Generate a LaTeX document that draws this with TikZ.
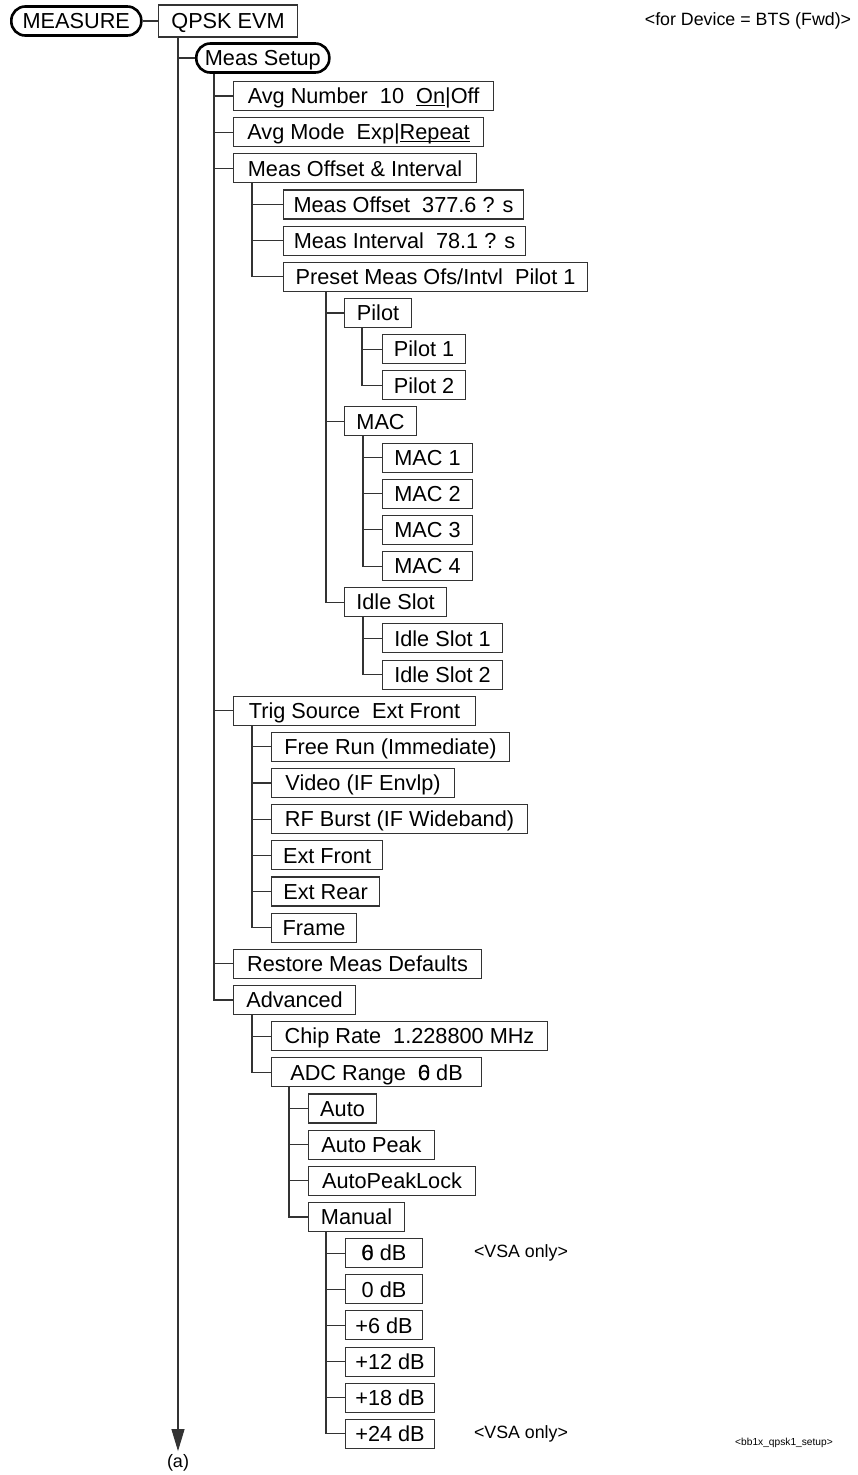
\documentclass[tikz,border=0pt]{standalone}
\usepackage{fontspec}
\setmainfont{Liberation Sans}
\usepackage{tikz}
\usetikzlibrary{arrows.meta}

% overprinted zero used in the ADC range labels
\newcommand{\zsix}{\makebox[0pt][l]{0}6}
% underline kept close to the baseline
\newcommand{\ul}[1]{\underline{\smash{#1}}}

\begin{document}
\begin{tikzpicture}[
    x=1pt, y=-1pt,
    font=\fontsize{21.7}{26}\selectfont,
    box/.style={rectangle, draw=black!80, line width=1.1pt, minimum height=29pt, inner xsep=3pt, inner ysep=0pt, text height=15.5pt, text depth=0pt, anchor=west},
    menu/.style={rectangle, draw, line width=2.6pt, rounded corners=14pt, minimum height=29pt, inner xsep=3pt, inner ysep=0pt, text height=15.5pt, text depth=0pt, anchor=west},
    note/.style={font=\fontsize{17.8}{21}\selectfont},
    link/.style={draw=black!80, line width=1.1pt},
    arrow/.style={link, -{Triangle[length=22pt, width=13pt]}}
]
    \useasboundingbox (0,0) rectangle (858,1475);

    % top level
    \node[menu, minimum width=130pt] (measure) at (10,21) {MEASURE};
    \node[box, minimum width=139pt, minimum height=32pt] (qpsk) at (158,21) {QPSK EVM};
    \node[menu, minimum width=133pt] (setup) at (195,58) {Meas Setup};
    \node[note] (device) at (748,21) {<for Device = BTS (Fwd)>};

    % Meas Setup
    \node[box, minimum width=260pt] (avgnum) at (233,96.0) {Avg Number\ \ 10\ \ \ul{On}|Off};
    \node[box, minimum width=250pt] (avgmode) at (233,132.2) {Avg Mode\ \ Exp|\ul{Repeat}};
    \node[box, minimum width=243pt] (ofsint) at (233,168.3) {Meas Offset \& Interval};
    \node[box, minimum width=240pt] (measofs) at (283,204.5) {Meas Offset\ \ 377.6 ? s};
    \node[box, minimum width=242pt] (measint) at (283,240.6) {Meas Interval\ \ 78.1 ? s};
    \node[box, minimum width=304pt] (preset) at (283,276.8) {Preset Meas Ofs/Intvl\ \ Pilot 1};
    \node[box, minimum width=67pt] (pilot) at (344,313.0) {Pilot};
    \node[box, minimum width=83pt] (pilotA) at (382,349.1) {Pilot 1};
    \node[box, minimum width=83pt] (pilotB) at (382,385.3) {Pilot 2};
    \node[box, minimum width=72pt] (mac) at (344,421.4) {MAC};
    \node[box, minimum width=90pt] (macA) at (382,457.6) {MAC 1};
    \node[box, minimum width=90pt] (macB) at (382,493.8) {MAC 2};
    \node[box, minimum width=90pt] (macC) at (382,529.9) {MAC 3};
    \node[box, minimum width=90pt] (macD) at (382,566.1) {MAC 4};
    \node[box, minimum width=102pt] (idle) at (344,602.2) {Idle Slot};
    \node[box, minimum width=120pt] (idleA) at (382,638.4) {Idle Slot 1};
    \node[box, minimum width=120pt] (idleB) at (382,674.6) {Idle Slot 2};
    \node[box, minimum width=242pt] (trig) at (233,710.7) {Trig Source\ \ Ext Front};
    \node[box, minimum width=238pt] (freerun) at (271,746.9) {Free Run (Immediate)};
    \node[box, minimum width=183pt] (video) at (271,783.0) {Video (IF Envlp)};
    \node[box, minimum width=256pt] (rfburst) at (271,819.2) {RF Burst (IF Wideband)};
    \node[box, minimum width=111pt] (extfront) at (271,855.4) {Ext Front};
    \node[box, minimum width=108pt] (extrear) at (271,891.5) {Ext Rear};
    \node[box, minimum width=85pt] (frame) at (271,927.7) {Frame};
    \node[box, minimum width=248pt] (restore) at (233,963.8) {Restore Meas Defaults};
    \node[box, minimum width=122pt] (adv) at (233,1000.0) {Advanced};
    \node[box, minimum width=276pt] (chiprate) at (271,1036.2) {Chip Rate\ \ 1.228800 MHz};
    \node[box, minimum width=210pt] (adc) at (271,1072.3) {ADC Range\ \ \zsix\ dB};
    \node[box, minimum width=68pt] (auto) at (308,1108.5) {Auto};
    \node[box, minimum width=126pt] (autopeak) at (308,1144.6) {Auto Peak};
    \node[box, minimum width=167pt] (apl) at (308,1180.8) {AutoPeakLock};
    \node[box, minimum width=96pt] (manual) at (308,1217.0) {Manual};
    \node[box, minimum width=77pt] (dbm6) at (345,1253.1) {\zsix\ dB};
    \node[box, minimum width=77pt] (db0) at (345,1289.3) {0 dB};
    \node[box, minimum width=77pt] (db6) at (345,1325.4) {+6 dB};
    \node[box, minimum width=89pt] (db12) at (345,1361.6) {+12 dB};
    \node[box, minimum width=89pt] (db18) at (345,1397.8) {+18 dB};
    \node[box, minimum width=89pt] (db24) at (345,1433.9) {+24 dB};
    \node[note] (vsaA) at (521,1253.1) {<VSA only>};
    \node[note] (vsaB) at (521,1433.9) {<VSA only>};

    \node[font=\fontsize{18}{21}\selectfont] (a) at (178,1463) {(a)};
    \node[font=\fontsize{10.2}{12}\selectfont] (tag) at (784,1443) {<bb1x\_qpsk1\_setup>};

    % trunks
    \draw[link] (measure) -- (qpsk);
    \draw[arrow] (qpsk.south west -| a) -- (a.north);
    \draw[link] (setup.west -| a) -- (setup.west);

    \coordinate (tSetup) at ([xshift=19pt]setup.south west);
    \coordinate (tOfs) at ([xshift=19pt]ofsint.south west);
    \coordinate (tPreset) at ([xshift=43pt]preset.south west);
    \coordinate (tPilot) at ([xshift=18pt]pilot.south west);
    \coordinate (tMac) at ([xshift=19pt]mac.south west);
    \coordinate (tIdle) at ([xshift=19pt]idle.south west);
    \coordinate (tTrig) at ([xshift=19pt]trig.south west);
    \coordinate (tAdv) at ([xshift=19pt]adv.south west);
    \coordinate (tAdc) at ([xshift=18pt]adc.south west);
    \coordinate (tManual) at ([xshift=18pt]manual.south west);

    \foreach \c in {avgnum,avgmode,ofsint,trig,restore,adv}
        \draw[link] (tSetup) |- (\c.west);
    \foreach \c in {measofs,measint,preset}
        \draw[link] (tOfs) |- (\c.west);
    \foreach \c in {pilot,mac,idle}
        \draw[link] (tPreset) |- (\c.west);
    \foreach \c in {pilotA,pilotB}
        \draw[link] (tPilot) |- (\c.west);
    \foreach \c in {macA,macB,macC,macD}
        \draw[link] (tMac) |- (\c.west);
    \foreach \c in {idleA,idleB}
        \draw[link] (tIdle) |- (\c.west);
    \foreach \c in {freerun,video,rfburst,extfront,extrear,frame}
        \draw[link] (tTrig) |- (\c.west);
    \foreach \c in {chiprate,adc}
        \draw[link] (tAdv) |- (\c.west);
    \foreach \c in {auto,autopeak,apl,manual}
        \draw[link] (tAdc) |- (\c.west);
    \foreach \c in {dbm6,db0,db6,db12,db18,db24}
        \draw[link] (tManual) |- (\c.west);
\end{tikzpicture}
\end{document}
